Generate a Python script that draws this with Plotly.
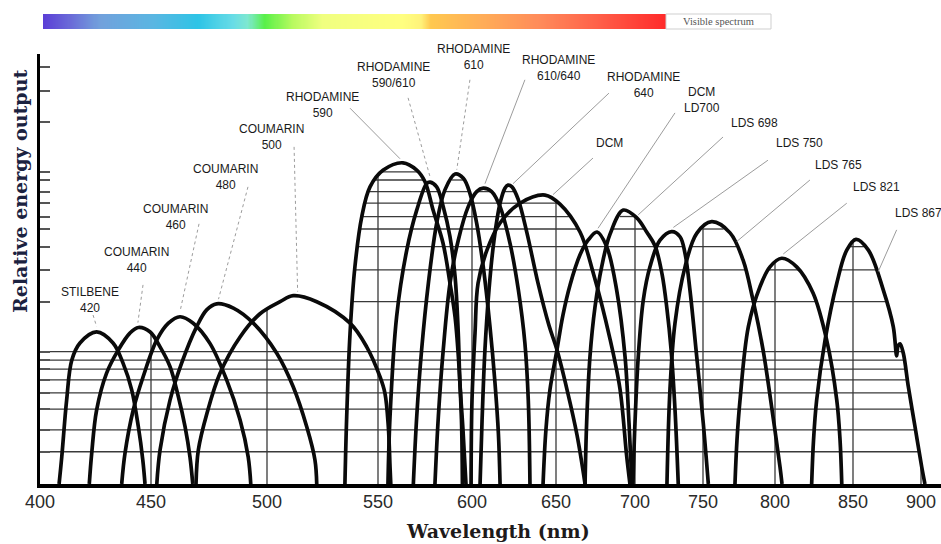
import numpy as np
import plotly.graph_objects as go

# ---------------------------------------------------------------------------
# Wavelength axis: the printed scale is piecewise linear between labelled ticks
# ---------------------------------------------------------------------------
TICK_NM = [400, 450, 500, 550, 600, 650, 700, 750, 800, 850, 900]
TICK_POS = [40, 151, 267, 378, 472, 556, 635, 703, 775, 853, 921]


def wl(nm):
    """Map wavelength (nm) onto the printed wavelength scale."""
    nm = np.asarray(nm, dtype=float)
    pos = np.interp(nm, TICK_NM, TICK_POS)
    slope = (TICK_POS[-1] - TICK_POS[-2]) / (TICK_NM[-1] - TICK_NM[-2])
    return np.where(nm > TICK_NM[-1], TICK_POS[-1] + (nm - TICK_NM[-1]) * slope, pos)


# ---------------------------------------------------------------------------
# Tuning curves: wavelength (nm) and relative energy output (0-100)
# ---------------------------------------------------------------------------
stilbene_420_nm = [408.6, 409.8, 412.0, 414.3, 418.0, 425.5, 432.9, 437.4, 441.3, 444.3, 446.3, 447.3]
stilbene_420_out = [0, 6.3, 19.5, 28.8, 32.8, 35.4, 32.8, 28.1, 21.9, 13.3, 5.6, 0]

coumarin_440_nm = [422.2, 423.3, 425.5, 430.0, 435.3, 440.5, 444.3, 449.5, 453.9, 458.2, 461.8, 464.7, 466.8, 468.0]
coumarin_440_out = [0, 7.2, 17.2, 25.8, 31.2, 35.1, 36.4, 35.4, 31.9, 27.3, 20.3, 13.3, 6.3, 0]

coumarin_460_nm = [436.8, 438.3, 442.0, 446.5, 452.5, 457.5, 462.5, 468.2, 475.4, 482.6, 488.4, 491.9, 493.0]
coumarin_460_out = [0, 7.2, 17.2, 25.0, 33.5, 37.4, 38.9, 37.4, 32.7, 24.2, 14.9, 6.3, 0]

coumarin_480_nm = [452.5, 453.9, 458.2, 463.2, 469.7, 474.0, 478.3, 485.5, 494.1, 504.4, 511.8, 517.9, 521.6, 522.4]
coumarin_480_out = [0, 7.9, 19.5, 28.1, 36.6, 40.5, 41.9, 40.9, 37.4, 30.4, 22.6, 13.3, 5.6, 0]

coumarin_500_nm = [469.4, 470.4, 474.1, 479.7, 488.4, 497.0, 505.9, 511.8, 522.4, 537.4, 544.9, 551.1, 553.7, 555.5, 556.4, 556.8]
coumarin_500_out = [0, 7.9, 16.4, 25.7, 34.2, 39.6, 42.4, 43.8, 42.4, 37.4, 31.9, 24.9, 21.1, 13.3, 4.0, 0]

rhodamine_590_nm = [535.1, 535.9, 537.4, 539.6, 542.7, 546.4, 552.8, 563.3, 570.6, 575.0, 579.3, 584.6, 588.3, 591.0, 593.1, 594.4, 594.9]
rhodamine_590_out = [0, 15.7, 35.0, 50.5, 62.2, 69.1, 73.0, 74.7, 73.0, 70.3, 63.7, 56.0, 46.7, 38.8, 27.2, 14.9, 0]

rhodamine_590_610_nm = [555.3, 556.4, 559.9, 565.3, 570.6, 575.9, 577.7, 581.2, 584.7, 588.3, 591.0, 592.7, 593.6, 595.2, 596.8]
rhodamine_590_610_out = [0, 15.7, 38.9, 54.4, 63.7, 69.9, 70.2, 69.1, 64.5, 57.5, 48.2, 35.0, 23.4, 12.6, 0]

rhodamine_610_nm = [568.8, 570.6, 573.2, 576.8, 581.2, 585.6, 591.0, 595.4, 598.9, 602.8, 606.7, 610.7, 613.7, 615.7, 616.7]
rhodamine_610_out = [0, 15.7, 31.2, 46.7, 60.6, 68.4, 72.1, 71.1, 67.6, 60.6, 50.5, 36.6, 23.4, 11.8, 0]

rhodamine_610_640_nm = [580.3, 582.1, 584.7, 588.3, 592.7, 598.0, 602.8, 606.7, 611.7, 616.7, 622.6, 627.6, 631.5, 633.5, 634.5]
rhodamine_610_640_out = [0, 15.7, 31.2, 46.7, 56.7, 64.5, 68.0, 68.8, 68.0, 64.5, 56.0, 45.1, 32.7, 19.5, 0]

rhodamine_640_nm = [604.8, 606.0, 607.7, 610.1, 613.1, 616.7, 619.6, 621.4, 623.8, 627.4, 632.7, 639.3, 645.8, 650.6, 657.0, 663.3, 668.4]
rhodamine_640_out = [0, 14.9, 31.2, 45.1, 56.7, 65.3, 68.8, 69.5, 69.1, 66.3, 58.4, 46.7, 36.9, 31.2, 21.9, 11.4, 0]

dcm_nm = [599.5, 600.0, 601.8, 603.6, 608.9, 616.7, 628.6, 643.5, 652.5, 665.2, 673.4, 684.2, 690.5, 694.7, 696.8]
dcm_out = [0, 19.5, 35.1, 46.7, 54.4, 60.7, 65.3, 67.2, 65.1, 58.6, 49.3, 33.7, 22.1, 6.6, 0]

dcm_ld700_nm = [642.3, 644.0, 646.4, 650.6, 654.4, 658.9, 665.2, 670.3, 676.0, 682.1, 688.4, 693.7, 696.2, 698.1]
dcm_ld700_out = [0, 12.6, 21.9, 31.2, 39.3, 46.3, 53.3, 56.7, 58.6, 55.2, 45.1, 29.6, 14.2, 0]

lds_698_nm = [668.4, 669.4, 671.5, 674.7, 678.9, 684.2, 692.6, 701.3, 708.6, 714.7, 719.9, 723.5, 726.5, 729.4, 731.8]
lds_698_out = [0, 14.3, 29.6, 41.2, 50.5, 58.1, 63.7, 61.9, 58.6, 55.4, 48.8, 40.7, 31.4, 17.4, 0]

lds_750_nm = [698.7, 700.0, 702.4, 706.1, 711.0, 718.4, 727.0, 733.1, 736.8, 740.4, 745.4, 750.2, 753.7]
lds_750_out = [0, 14.3, 29.6, 42.8, 50.5, 56.7, 58.7, 57.5, 53.6, 45.1, 29.6, 14.1, 0]

lds_765_nm = [723.5, 725.7, 729.4, 736.8, 745.4, 756.0, 768.8, 777.8, 784.7, 791.7, 798.6, 803.2, 804.5]
lds_765_out = [0, 21.9, 37.4, 50.5, 58.3, 61.0, 58.4, 52.1, 42.8, 31.2, 15.7, 4.0, 0]

lds_821_nm = [772.2, 773.6, 775.7, 781.5, 789.6, 796.5, 804.3, 813.9, 824.4, 833.1, 839.6, 841.7, 842.8]
lds_821_out = [0, 10.2, 19.5, 36.6, 45.9, 50.5, 52.5, 50.5, 44.4, 33.5, 19.5, 10.2, 0]

lds_867_nm = [823.5, 824.7, 826.7, 832.1, 839.6, 846.0, 852.2, 861.3, 872.3, 879.6, 882.1, 883.1, 884.6, 887.0, 890.7, 895.6, 900.5, 902.9]
lds_867_out = [0, 10.2, 19.5, 33.5, 46.7, 54.4, 56.9, 54.4, 45.1, 36.6, 29.8, 32.1, 32.6, 30.4, 22.6, 13.3, 4.0, 0]

curves = {
    "STILBENE 420": (stilbene_420_nm, stilbene_420_out),
    "COUMARIN 440": (coumarin_440_nm, coumarin_440_out),
    "COUMARIN 460": (coumarin_460_nm, coumarin_460_out),
    "COUMARIN 480": (coumarin_480_nm, coumarin_480_out),
    "COUMARIN 500": (coumarin_500_nm, coumarin_500_out),
    "RHODAMINE 590": (rhodamine_590_nm, rhodamine_590_out),
    "RHODAMINE 590/610": (rhodamine_590_610_nm, rhodamine_590_610_out),
    "RHODAMINE 610": (rhodamine_610_nm, rhodamine_610_out),
    "RHODAMINE 610/640": (rhodamine_610_640_nm, rhodamine_610_640_out),
    "RHODAMINE 640": (rhodamine_640_nm, rhodamine_640_out),
    "DCM": (dcm_nm, dcm_out),
    "DCM LD700": (dcm_ld700_nm, dcm_ld700_out),
    "LDS 698": (lds_698_nm, lds_698_out),
    "LDS 750": (lds_750_nm, lds_750_out),
    "LDS 765": (lds_765_nm, lds_765_out),
    "LDS 821": (lds_821_nm, lds_821_out),
    "LDS 867": (lds_867_nm, lds_867_out),
}

# Dye labels: text, label centre (nm, output), leader start (nm, output),
# wavelength where the leader meets its curve, leader dash
label_curve = list(curves.keys())
label_text = ["STILBENE<br>420", "COUMARIN<br>440", "COUMARIN<br>460", "COUMARIN<br>480",
              "COUMARIN<br>500", "RHODAMINE<br>590", "RHODAMINE<br>590/610", "RHODAMINE<br>610",
              "RHODAMINE<br>610/640", "RHODAMINE<br>640", "DCM", "DCM<br>LD700", "LDS 698",
              "LDS 750", "LDS 765", "LDS 821", "LDS 867"]
label_nm = [422.7, 443.6, 460.6, 481.9, 502.1, 524.8, 558.1, 600.8, 651.7, 705.9,
            683.7, 749.0, 786.1, 815.6, 840.6, 867.4, 879.5]
label_out = [42.9, 52.0, 62.0, 71.4, 80.7, 88.1, 95.1, 99.4, 96.7, 92.9,
             79.2, 89.2, 83.9, 79.2, 74.2, 69.1, 63.1]
leader_from_nm = [423.9, 446.4, 470.7, 491.8, 512.2, 537.4, 566.0, 598.9, 631.5, 683.5,
                  673.4, 729.4, 763.9, 795.1, 822.4, 846.0, 882.1]
leader_from_out = [39.3, 46.3, 60.5, 69.1, 78.4, 87.4, 89.8, 94.0, 94.0, 90.9,
                   75.8, 86.3, 80.7, 75.3, 70.7, 65.3, 59.1]
leader_to_nm = [425.5, 444.1, 462.5, 479.1, 513.8, 561.7, 577.7, 591.9, 607.7, 624.4,
                648.2, 676.6, 702.4, 728.2, 773.4, 805.3, 868.6]
leader_dash = ["dot", "dot", "dot", "dot", "dot", "solid", "dot", "dot", "solid", "solid",
               "solid", "solid", "solid", "solid", "solid", "solid", "solid"]

# Output-axis tick levels; the lower two bands also carry horizontal rules
grid_levels_low = [7.5, 12.6, 17.4, 21.2, 24.2, 26.7, 28.8, 30.8]
grid_levels_high = [42.4, 49.8, 55.2, 59.3, 62.2, 65.3, 68.0, 70.7, 72.6]
tick_levels_top = [84.3, 91.4, 97.0]

# Colour stops of the visible-spectrum strip
spectrum_stops = [
    [0.0, "#5b3fd6"], [0.043, "#6a6ad8"], [0.09, "#72a0dc"], [0.177, "#5ab6e2"],
    [0.249, "#2ec4e6"], [0.305, "#68dce6"], [0.329, "#7ee8d0"], [0.356, "#58f048"],
    [0.401, "#b8fa60"], [0.449, "#f0ff80"], [0.578, "#ffff80"], [0.607, "#fff27a"],
    [0.623, "#ffc850"], [0.703, "#ffae58"], [0.8, "#ff8a5a"], [0.894, "#ff5e48"],
    [1.0, "#ff2a2a"],
]

# ---------------------------------------------------------------------------
W, H = 941, 544
PLOT_BOTTOM = 484          # paper height (pixels above the bottom margin)
X0 = TICK_POS[0]

fig = go.Figure()

# Upper envelope of all curves, used to confine the grid to the area under them
u = np.linspace(wl(400), wl(910), 4000)
env = np.zeros_like(u)
for nm, out in curves.values():
    env = np.maximum(env, np.interp(u, wl(nm), out, left=0, right=0))


def segments(mask):
    edges = np.diff(mask.astype(int))
    starts = list(np.nonzero(edges == 1)[0] + 1)
    ends = list(np.nonzero(edges == -1)[0])
    if mask[0]:
        starts = [0] + starts
    if mask[-1]:
        ends = ends + [len(mask) - 1]
    return list(zip(starts, ends))


gx, gy = [], []
for lv in grid_levels_low:
    mask = env > lv
    last = np.nonzero(mask)[0][-1]
    mask[: last + 1] = True
    for s, e in segments(mask):
        gx += [u[s], u[e], None]
        gy += [lv, lv, None]
for lv in grid_levels_high:
    mask = (env > lv) & (u > wl(530))
    for s, e in segments(mask):
        gx += [u[s], u[e], None]
        gy += [lv, lv, None]
for t in TICK_NM[1:]:
    xt = float(wl(t))
    gx += [xt, xt, None]
    gy += [0, float(np.interp(xt, u, env)), None]

fig.add_trace(go.Scatter(x=gx, y=gy, mode="lines", line=dict(color="#3a3a3a", width=1.3),
                         hoverinfo="skip"))

# Tuning curves
for name, (nm, out) in curves.items():
    fig.add_trace(go.Scatter(x=wl(nm), y=out, mode="lines", name=name,
                             line=dict(color="#0a0a0a", width=3.7, shape="spline", smoothing=1.0)))

# Leader lines and dye labels
annotations = []
for i, name in enumerate(label_curve):
    nm, out = curves[name]
    to_x = float(wl(leader_to_nm[i]))
    to_y = float(np.interp(to_x, wl(nm), out)) + 1.2
    fig.add_trace(go.Scatter(
        x=[float(wl(leader_from_nm[i])), to_x], y=[leader_from_out[i], to_y], mode="lines",
        line=dict(color="#9c9c9c", width=1, dash=leader_dash[i]), hoverinfo="skip"))
    annotations.append(dict(
        x=float(wl(label_nm[i])), y=label_out[i], xref="x", yref="y", text=label_text[i],
        showarrow=False, xanchor="left" if name == "LDS 867" else "center", yanchor="middle",
        font=dict(family="Liberation Sans, Arial, sans-serif", size=12, color="#1a1a1a")))

# Visible-spectrum strip
fig.add_trace(go.Heatmap(z=[np.linspace(0, 1, 600)], x=np.linspace(0, 1, 600), y=[0],
                         colorscale=spectrum_stops, showscale=False, xaxis="x2", yaxis="y2",
                         hoverinfo="skip"))

annotations += [
    dict(x=718 / W, y=(PLOT_BOTTOM - 21.5) / PLOT_BOTTOM, xref="paper", yref="paper",
         text="Visible spectrum", showarrow=False, xanchor="center", yanchor="middle",
         font=dict(family="Liberation Serif, serif", size=10.5, color="#555555")),
    dict(x=20 / W, y=(PLOT_BOTTOM - 192) / PLOT_BOTTOM, xref="paper", yref="paper",
         text="<b>Relative energy output</b>", textangle=-90, showarrow=False,
         xanchor="center", yanchor="middle",
         font=dict(family="DejaVu Serif, serif", size=19, color="#1b2240")),
    dict(x=498 / W, y=(PLOT_BOTTOM - 531) / PLOT_BOTTOM, xref="paper", yref="paper",
         text="<b>Wavelength (nm)</b>", showarrow=False, xanchor="center", yanchor="middle",
         font=dict(family="DejaVu Serif, serif", size=19, color="#1e1a1a")),
]

fig.update_layout(
    width=W, height=H, margin=dict(l=0, r=0, t=0, b=H - PLOT_BOTTOM, autoexpand=False),
    paper_bgcolor="white", plot_bgcolor="white", showlegend=False,
    xaxis=dict(domain=[X0 / W, 1], range=[X0, W], tickmode="array", automargin=False,
               tickvals=[float(v) for v in wl(TICK_NM)], ticktext=[str(t) for t in TICK_NM],
               showgrid=False, zeroline=False, showline=True, linecolor="black", linewidth=4,
               ticks="", ticklabelstandoff=-2,
               tickfont=dict(family="Liberation Sans, Arial, sans-serif", size=18, color="#2a2a2a")),
    yaxis=dict(domain=[0, 430 / PLOT_BOTTOM], range=[0, 100], tickmode="array", automargin=False,
               tickvals=grid_levels_low + grid_levels_high + tick_levels_top,
               showticklabels=False, ticks="inside", ticklen=10, tickwidth=1.5, tickcolor="#555555",
               showgrid=False, zeroline=False, showline=True, linecolor="black", linewidth=3),
    xaxis2=dict(domain=[43 / W, 666 / W], range=[0, 1], anchor="y2", visible=False),
    yaxis2=dict(domain=[(PLOT_BOTTOM - 29) / PLOT_BOTTOM, (PLOT_BOTTOM - 14) / PLOT_BOTTOM],
                range=[-0.5, 0.5], anchor="x2", visible=False),
    annotations=annotations,
    shapes=[dict(type="rect", xref="paper", yref="paper", x0=666 / W, x1=771 / W,
                 y0=(PLOT_BOTTOM - 29) / PLOT_BOTTOM, y1=(PLOT_BOTTOM - 14) / PLOT_BOTTOM,
                 line=dict(color="#cfcfcf", width=1), fillcolor="rgba(0,0,0,0)", layer="above")],
)

fig.write_html("out.html")
